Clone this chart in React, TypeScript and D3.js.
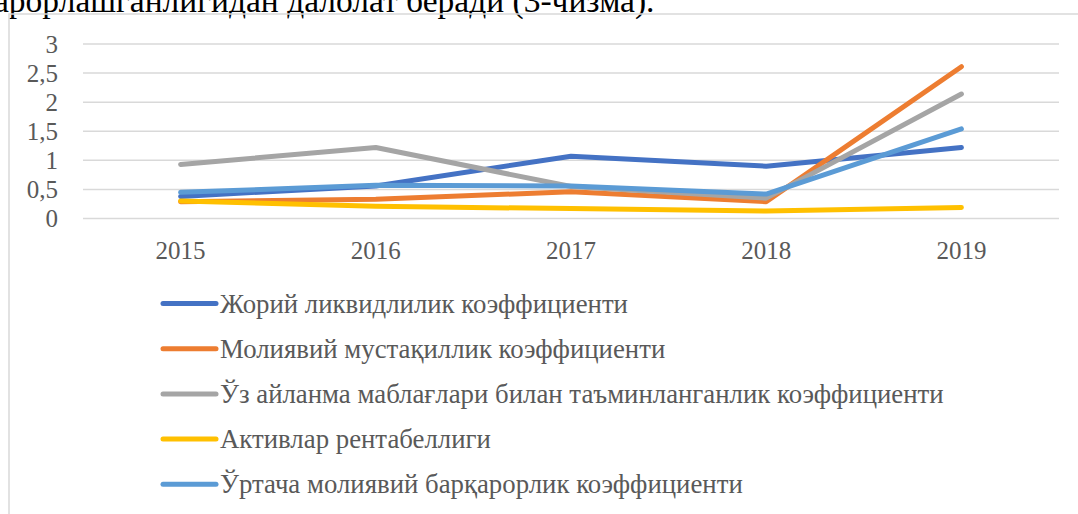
import React from "react";
import * as d3 from "d3";

const years = ["2015", "2016", "2017", "2018", "2019"];
const seriesNames = [
  "Жорий ликвидлилик коэффициенти",
  "Молиявий мустақиллик коэффициенти",
  "Ўз айланма маблағлари билан таъминланганлик коэффициенти",
  "Активлар рентабеллиги",
  "Ўртача молиявий барқарорлик коэффициенти",
];
const currentLiquidity = [0.38, 0.56, 1.07, 0.9, 1.22];
const financialIndependence = [0.29, 0.33, 0.46, 0.29, 2.61];
const ownWorkingCapital = [0.93, 1.22, 0.55, 0.35, 2.14];
const assetReturn = [0.3, 0.21, 0.17, 0.13, 0.19];
const avgStability = [0.45, 0.57, 0.56, 0.42, 1.54];
const yTicks = [0, 0.5, 1, 1.5, 2, 2.5, 3];
const colors = ["#4472C4", "#ED7D31", "#A5A5A5", "#FFC000", "#5B9BD5"];
const headingText = "арорлашганлигидан далолат беради (3-чизма).";

export default function App() {
  const W = 1078;
  const H = 514;
  const values = [currentLiquidity, financialIndependence, ownWorkingCapital, assetReturn, avgStability];
  const x = d3.scaleBand<string>().domain(years).range([83, 1059]);
  const y = d3.scaleLinear().domain([0, 3]).range([218.5, 44]);
  const line = d3
    .line<number>()
    .x((_, i) => (x(years[i]) as number) + x.bandwidth() / 2)
    .y((d) => y(d));
  const fmt = (v: number) => String(v).replace(".", ",");
  const font = "Liberation Serif, Times New Roman, DejaVu Serif, serif";
  const legendY0 = 303.5;
  const legendStep = 45.2;

  return (
    <svg
      width={W}
      height={H}
      style={{ position: "absolute", left: 0, top: 0, background: "#fff", fontFamily: font }}
    >
      <text x={-6} y={12} fontSize={33.5} fill="#000" style={{ fontFamily: font }}>
        {headingText}
      </text>
      <rect x={9} y={14} width={W + 20} height={H + 20} fill="none" stroke="#D9D9D9" strokeWidth={1.5} />
      {yTicks.map((t) => (
        <g key={t}>
          <line x1={83} x2={1059} y1={y(t)} y2={y(t)} stroke="#D9D9D9" strokeWidth={1.5} />
          <text
            x={58}
            y={y(t)}
            textAnchor="end"
            dominantBaseline="central"
            fontSize={25}
            fill="#595959"
            style={{ fontFamily: font }}
          >
            {fmt(t)}
          </text>
        </g>
      ))}
      {years.map((yr) => (
        <text
          key={yr}
          x={(x(yr) as number) + x.bandwidth() / 2}
          y={259}
          textAnchor="middle"
          fontSize={25}
          fill="#595959"
          style={{ fontFamily: font }}
        >
          {yr}
        </text>
      ))}
      {values.map((vals, i) => (
        <path
          key={i}
          d={line(vals) || ""}
          fill="none"
          stroke={colors[i]}
          strokeWidth={5}
          strokeLinecap="round"
          strokeLinejoin="round"
        />
      ))}
      {seriesNames.map((name, i) => (
        <g key={name}>
          <line
            x1={163}
            x2={216}
            y1={legendY0 + i * legendStep}
            y2={legendY0 + i * legendStep}
            stroke={colors[i]}
            strokeWidth={5}
            strokeLinecap="round"
          />
          <text
            x={220}
            y={legendY0 + i * legendStep}
            dominantBaseline="central"
            fontSize={26.8}
            fill="#595959"
            style={{ fontFamily: font }}
          >
            {name}
          </text>
        </g>
      ))}
    </svg>
  );
}
